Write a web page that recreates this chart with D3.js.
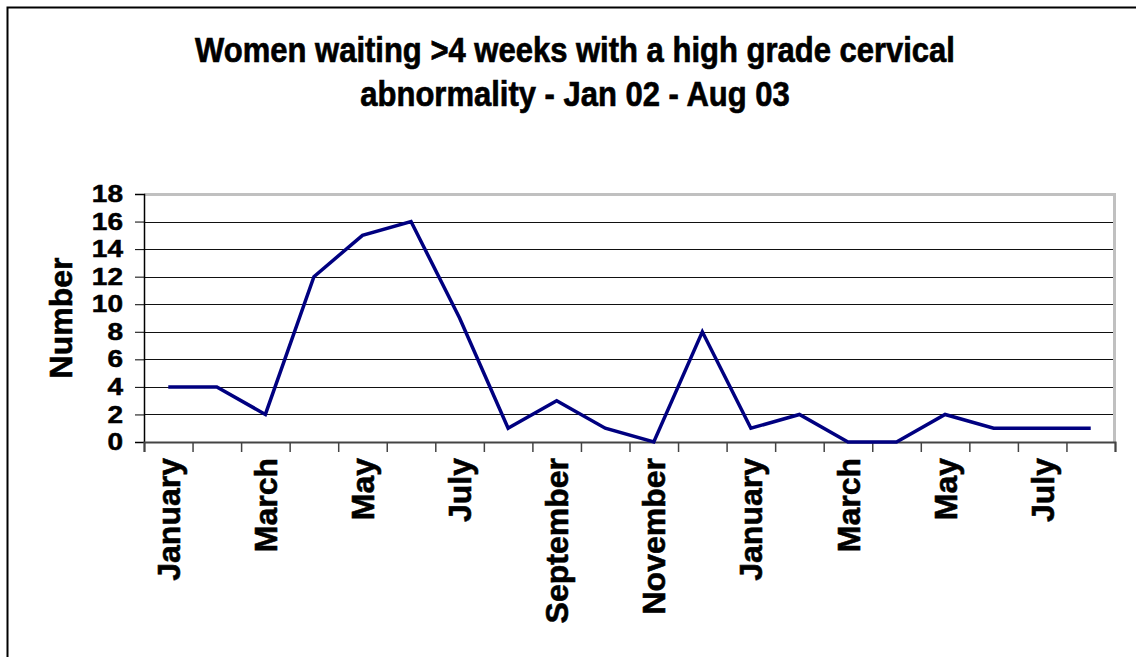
<!DOCTYPE html>
<html>
<head>
<meta charset="utf-8">
<script src="https://cdn.jsdelivr.net/npm/d3@7"></script>
<style>
  body { margin: 0; background: #fff; }
  text { font-family: Arial, "Liberation Sans", sans-serif; font-weight: bold; fill: #000; stroke: #000; stroke-width: 0.6px; }
</style>
</head>
<body>
<div id="chart"></div>
<script>
// Chart data
let months = ["January", "February", "March", "April", "May", "June", "July", "August",
  "September", "October", "November", "December",
  "January", "February", "March", "April", "May", "June", "July", "August"];
let waiting = [4, 4, 2, 12, 15, 16, 9, 1, 3, 1, 0, 8, 1, 2, 0, 0, 2, 1, 1, 1];
let yTicks = [0, 2, 4, 6, 8, 10, 12, 14, 16, 18];
let titleLines = ["Women waiting >4 weeks with a high grade cervical",
  "abnormality - Jan 02 - Aug 03"];

// SVG area
let svgWidth = 1136;
let svgHeight = 657;

let chartMargin = { top: 194, left: 144 };
let chartWidth = 971;
let chartHeight = 248;

let svg = d3.select("#chart")
  .append("svg")
  .attr("width", svgWidth)
  .attr("height", svgHeight);

// outer frame
svg.append("rect")
  .attr("x", 7.5)
  .attr("y", 7.5)
  .attr("width", 1200)
  .attr("height", 700)
  .attr("fill", "none")
  .attr("stroke", "#000")
  .attr("stroke-width", 2);

// title (slightly stretched vertically like the original)
svg.append("g").selectAll("text")
  .data(titleLines)
  .enter()
  .append("text")
  .attr("transform", (d, i) => `translate(575, ${62 + i * 44}) scale(1, 1.12)`)
  .attr("text-anchor", "middle")
  .style("font-size", "31px")
  .text(d => d);

let chartGroup = svg.append("g")
  .attr("transform", `translate(${chartMargin.left}, ${chartMargin.top})`);

// scales
let xBand = d3.scaleBand()
  .domain(d3.range(months.length))
  .range([0, chartWidth]);

let xEdges = d3.scaleLinear()
  .domain([0, months.length])
  .range([0, chartWidth]);

let yScale = d3.scaleLinear()
  .domain([0, 18])
  .range([chartHeight, 0]);

// gridlines
chartGroup.append("g")
  .selectAll("line")
  .data(yTicks.filter(t => t > 0 && t < 18))
  .enter()
  .append("line")
  .attr("x1", 0)
  .attr("x2", chartWidth)
  .attr("y1", d => Math.round(yScale(d)) + 0.5)
  .attr("y2", d => Math.round(yScale(d)) + 0.5)
  .attr("stroke", "#111")
  .attr("stroke-width", 1);

// plot area border (top and right in grey)
chartGroup.append("path")
  .attr("d", `M0,0.5 H${chartWidth - 0.5} V${chartHeight}`)
  .attr("fill", "none")
  .attr("stroke", "#c0c0c0")
  .attr("stroke-width", 3);

// left axis
let leftAxis = d3.axisLeft(yScale)
  .tickValues(yTicks)
  .tickSize(9)
  .tickPadding(12);

let yAxisG = chartGroup.append("g")
  .call(leftAxis);
yAxisG.select(".domain").attr("stroke", "#000").attr("stroke-width", 1.5);
yAxisG.selectAll(".tick line").attr("stroke", "#000");
// labels are packed tight in the original, squash them a bit vertically
yAxisG.selectAll(".tick text")
  .style("font-size", "28px")
  .attr("font-family", null)
  .attr("transform", "scale(1, 0.85)");

// bottom axis: tick marks at category edges
let edgeAxis = d3.axisBottom(xEdges)
  .tickValues(d3.range(months.length + 1))
  .tickSize(10)
  .tickFormat("");

let xAxisG = chartGroup.append("g")
  .attr("transform", `translate(0, ${chartHeight})`)
  .call(edgeAxis);
xAxisG.select(".domain").attr("stroke", "#444").attr("stroke-width", 2);
xAxisG.selectAll(".tick line").attr("stroke", "#444").attr("stroke-width", 1.5);

// bottom axis: month labels on every second category
let labelAxis = d3.axisBottom(xBand)
  .tickSize(0)
  .tickFormat(i => i % 2 === 0 ? months[i] : "");

let labelG = chartGroup.append("g")
  .attr("transform", `translate(0, ${chartHeight})`)
  .call(labelAxis);
labelG.select(".domain").remove();
labelG.selectAll(".tick text")
  .attr("font-family", null)
  .style("font-size", "32px")
  .style("text-anchor", "end")
  .attr("transform", "rotate(-90)")
  .attr("x", -16)
  .attr("y", 0)
  .attr("dy", "0.36em");

// y axis label
svg.append("text")
  .attr("transform", "translate(72, 318) rotate(-90)")
  .attr("text-anchor", "middle")
  .style("font-size", "32px")
  .text("Number");

// the line
let line = d3.line()
  .x((d, i) => xBand(i) + xBand.bandwidth() / 2)
  .y(d => yScale(d));

chartGroup.append("path")
  .datum(waiting)
  .attr("d", line)
  .attr("fill", "none")
  .attr("stroke", "#000080")
  .attr("stroke-width", 3.5)
  .attr("stroke-linejoin", "miter");
</script>
</body>
</html>
